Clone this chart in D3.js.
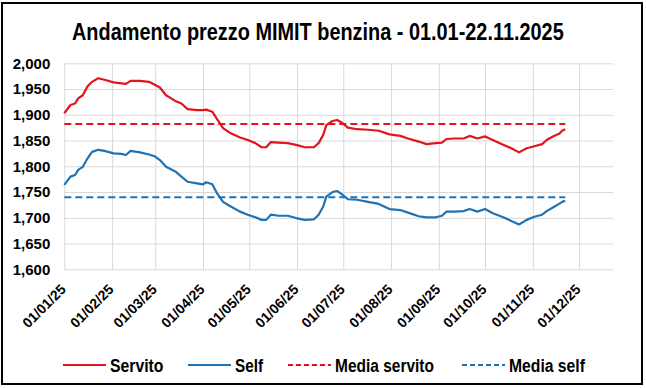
<!DOCTYPE html>
<html>
<head>
<meta charset="utf-8">
<script src="https://cdn.jsdelivr.net/npm/d3@7"></script>
<style>
  body { margin: 0; background: #fff; }
  svg { display: block; }
  .tick text { font-family: "Liberation Sans", Arial, sans-serif; font-weight: bold; fill: #000; }
  .lbl { font-family: "Liberation Sans", Arial, sans-serif; font-weight: bold; fill: #000; }
</style>
</head>
<body>
<div id="chart"></div>
<script>
// prezzi medi MIMIT benzina 2025 (euro/litro)
var dates = ["2025-01-01","2025-01-05","2025-01-08","2025-01-10","2025-01-13","2025-01-16","2025-01-19","2025-01-23","2025-01-27",
  "2025-02-02","2025-02-07","2025-02-10","2025-02-13","2025-02-19","2025-02-25",
  "2025-03-01","2025-03-04","2025-03-08","2025-03-14","2025-03-18","2025-03-22","2025-03-28",
  "2025-04-01","2025-04-03","2025-04-07","2025-04-10","2025-04-14","2025-04-19","2025-04-25","2025-04-30",
  "2025-05-05","2025-05-09","2025-05-12","2025-05-15","2025-05-20","2025-05-26",
  "2025-06-01","2025-06-06","2025-06-12","2025-06-15","2025-06-18","2025-06-20","2025-06-24","2025-06-27","2025-06-30",
  "2025-07-04","2025-07-10","2025-07-17","2025-07-24","2025-07-31",
  "2025-08-07","2025-08-12","2025-08-19","2025-08-24","2025-08-30",
  "2025-09-03","2025-09-06","2025-09-11","2025-09-17","2025-09-21","2025-09-26",
  "2025-10-01","2025-10-06","2025-10-12","2025-10-18","2025-10-23","2025-10-28",
  "2025-11-02","2025-11-07","2025-11-10","2025-11-14","2025-11-18","2025-11-20","2025-11-22"];

var servito = [1.903,1.919,1.922,1.932,1.938,1.955,1.964,1.971,1.968,
  1.963,1.961,1.960,1.966,1.966,1.964,
  1.958,1.953,1.938,1.927,1.922,1.911,1.909,
  1.909,1.910,1.906,1.892,1.874,1.864,1.856,1.851,
  1.845,1.837,1.837,1.847,1.846,1.845,
  1.841,1.837,1.837,1.845,1.861,1.880,1.888,1.890,1.885,
  1.875,1.872,1.871,1.869,1.862,
  1.859,1.854,1.848,1.843,1.845,
  1.846,1.853,1.854,1.854,1.859,1.854,
  1.858,1.851,1.843,1.835,1.827,1.835,
  1.839,1.843,1.851,1.858,1.863,1.869,1.872];

var self = [1.764,1.780,1.783,1.793,1.799,1.815,1.828,1.832,1.830,
  1.825,1.824,1.822,1.830,1.827,1.823,
  1.819,1.812,1.799,1.790,1.780,1.770,1.767,
  1.765,1.769,1.765,1.748,1.731,1.722,1.712,1.706,
  1.701,1.696,1.696,1.706,1.704,1.704,
  1.699,1.696,1.697,1.706,1.722,1.741,1.750,1.752,1.746,
  1.736,1.735,1.731,1.727,1.717,
  1.715,1.710,1.703,1.701,1.701,
  1.704,1.712,1.712,1.713,1.717,1.712,
  1.717,1.709,1.702,1.694,1.687,1.696,
  1.702,1.706,1.713,1.720,1.727,1.731,1.733];

var mediaServito = 1.882;
var mediaSelf = 1.740;

var yTicks = [1.600,1.650,1.700,1.750,1.800,1.850,1.900,1.950,2.000];
var xDomain = ["2025-01-01","2025-12-23"];

var legendLabels = ["Servito","Self","Media servito","Media self"];

var width = 646, height = 388;
var margin = {top: 63.3, right: 33, bottom: 118.7, left: 64.3};
var RED = "#e3141c", BLUE = "#1f72b3";

var parse = d3.timeParse("%Y-%m-%d");
var rows = dates.map(function(d, i) {
  return {date: parse(d), servito: servito[i], self: self[i]};
});

var svg = d3.select("#chart").append("svg")
    .attr("width", width)
    .attr("height", height);

svg.append("rect")
    .attr("width", width).attr("height", height)
    .attr("fill", "#fff");

// cornice del grafico
svg.append("rect")
    .attr("x", 2).attr("y", 3)
    .attr("width", 640).attr("height", 381)
    .attr("fill", "none")
    .attr("stroke", "#000")
    .attr("stroke-width", 2);

var x = d3.scaleTime()
    .domain(xDomain.map(parse))
    .range([margin.left, width - margin.right]);

var y = d3.scaleLinear()
    .domain([1.6, 2.0])
    .range([height - margin.bottom, margin.top]);

var fmtY = function(d) { return d3.format(".3f")(d).replace(".", ","); };

// griglia orizzontale
svg.append("g")
    .attr("transform", "translate(" + margin.left + ",0)")
    .call(d3.axisLeft(y).tickValues(yTicks).tickSize(-(width - margin.right - margin.left)).tickFormat(""))
    .call(function(g) { g.select(".domain").remove(); })
    .selectAll("line").attr("stroke", "#d9d9d9");

// griglia verticale
var months = d3.timeMonth.range(parse("2025-01-01"), parse("2025-12-02"));
svg.append("g")
    .attr("transform", "translate(0," + (height - margin.bottom) + ")")
    .call(d3.axisBottom(x).tickValues(months).tickSize(-(height - margin.bottom - margin.top)).tickFormat(""))
    .call(function(g) { g.select(".domain").remove(); })
    .selectAll("line").attr("stroke", "#d9d9d9");

// asse y
svg.append("g")
    .attr("transform", "translate(" + (margin.left - 14) + ",0)")
    .call(d3.axisLeft(y).tickValues(yTicks).tickSize(0).tickPadding(0).tickFormat(fmtY))
    .call(function(g) { g.select(".domain").remove(); })
    .selectAll("text")
    .style("font-size", "15px");

// asse x
svg.append("g")
    .attr("transform", "translate(0," + (height - margin.bottom) + ")")
    .call(d3.axisBottom(x).tickValues(months).tickSize(0).tickFormat(d3.timeFormat("%d/%m/%y")))
    .call(function(g) { g.select(".domain").remove(); })
    .selectAll("text")
    .style("font-size", "14px")
    .attr("text-anchor", "end")
    .attr("dy", null)
    .attr("y", 0)
    .attr("transform", "translate(2,21) rotate(-45)");

// medie
var d0 = rows[0].date, d1 = rows[rows.length - 1].date;
[[mediaServito, RED], [mediaSelf, BLUE]].forEach(function(m) {
  svg.append("line")
      .attr("x1", x(d0)).attr("x2", x(d1))
      .attr("y1", y(m[0])).attr("y2", y(m[0]))
      .attr("stroke", m[1])
      .attr("stroke-width", 2)
      .attr("stroke-dasharray", "7,4");
});

var line = function(key) {
  return d3.line()
      .x(function(d) { return x(d.date); })
      .y(function(d) { return y(d[key]); })
      .curve(d3.curveLinear);
};

svg.append("path")
    .datum(rows)
    .attr("fill", "none")
    .attr("stroke", RED)
    .attr("stroke-width", 2.2)
    .attr("stroke-linejoin", "round")
    .attr("d", line("servito"));

svg.append("path")
    .datum(rows)
    .attr("fill", "none")
    .attr("stroke", BLUE)
    .attr("stroke-width", 2.2)
    .attr("stroke-linejoin", "round")
    .attr("d", line("self"));

// testo "stretto": scala orizzontale fino alla larghezza voluta
function narrowText(sel, px, py, w) {
  var natural = sel.node().getComputedTextLength();
  var k = w / natural;
  sel.attr("x", 0).attr("y", 0)
     .attr("transform", "translate(" + px + "," + py + ") scale(" + k + ",1)");
}

// titolo
var title = svg.append("text")
    .attr("class", "lbl")
    .style("font-size", "24px")
    .text("Andamento prezzo MIMIT benzina - 01.01-22.11.2025");
narrowText(title, 72, 40, 492);

// legenda
var legendX = [63, 188, 288, 462];
var legendW = [53.5, 28, 99, 76];
var legendColors = [RED, BLUE, RED, BLUE];
var legendDash = [null, null, "5,3", "5,3"];
var leg = svg.append("g").attr("transform", "translate(0,365)");
legendLabels.forEach(function(lbl, i) {
  leg.append("line")
      .attr("x1", legendX[i]).attr("x2", legendX[i] + 43)
      .attr("stroke", legendColors[i])
      .attr("stroke-width", 2)
      .attr("stroke-dasharray", legendDash[i]);
  var t = leg.append("text")
      .attr("class", "lbl")
      .style("font-size", "19px")
      .text(lbl);
  narrowText(t, legendX[i] + 47, 6.5, legendW[i]);
});
</script>
</body>
</html>
